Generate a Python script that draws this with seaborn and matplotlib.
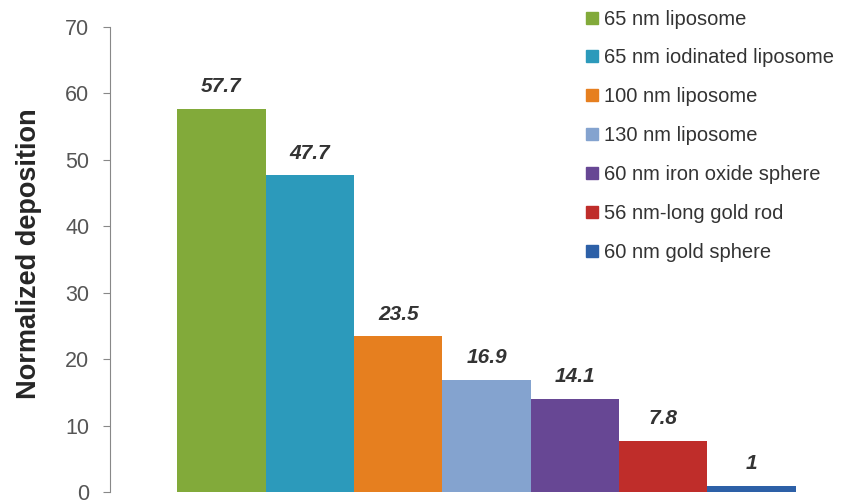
import numpy as np
import pandas as pd
import seaborn as sns
from matplotlib import pyplot as plt
from matplotlib.lines import Line2D

labels = ["65 nm liposome", "65 nm iodinated liposome", "100 nm liposome",
          "130 nm liposome", "60 nm iron oxide sphere", "56 nm-long gold rod",
          "60 nm gold sphere"]
values = [57.7, 47.7, 23.5, 16.9, 14.1, 7.8, 1]
value_text = ["57.7", "47.7", "23.5", "16.9", "14.1", "7.8", "1"]
colors = ["#82AA3A", "#2C9ABB", "#E67F1F", "#84A3CF", "#674794", "#BF2D2A", "#2D60A7"]
yticks = [0, 10, 20, 30, 40, 50, 60, 70]

sns.set_style("white")
plt.rcParams['font.family'] = ['Liberation Sans', 'DejaVu Sans']

df = pd.DataFrame({"label": labels, "value": values})

fig = plt.figure(figsize=(8.47, 5.04), dpi=100)
ax = fig.add_axes([0.130, 0.023, 0.870, 0.924])
sns.barplot(data=df, x="label", y="value", hue="label", palette=colors,
            order=labels, hue_order=labels, dodge=False, width=1.0,
            legend=False, saturation=1, linewidth=0, ax=ax)

ax.set_ylim(0, 70)
ax.set_xlim(-1.26, 7.08)
ax.set_yticks(yticks)
ax.set_yticklabels([str(t) for t in yticks], fontsize=15.5, color="#555555")
ax.set_xticks([])
ax.set_xlabel("")
ax.set_ylabel("Normalized deposition", fontsize=19.5, fontweight="bold")
ax.yaxis.set_label_coords(-0.092, 0.513)
for s in ["top", "right", "bottom"]:
    ax.spines[s].set_visible(False)
ax.spines["left"].set_color("#888888")
ax.tick_params(axis="y", direction="out", length=5, color="#888888", left=True, pad=10)

for i, (v, t) in enumerate(zip(values, value_text)):
    ax.annotate(t, (i, v), xytext=(0, 9), textcoords="offset points",
                ha="center", va="bottom", fontsize=15, fontweight="bold",
                fontstyle="italic", color="#333333")

handles = [Line2D([0], [0], marker="s", linestyle="none", markersize=9,
                  markerfacecolor=c, markeredgecolor=c) for c in colors]
fig.legend(handles, labels, loc="upper left", bbox_to_anchor=(0.682, 0.997),
           frameon=False, fontsize=14.5, labelspacing=0.985, handlelength=0.6,
           handletextpad=0.3, borderaxespad=0, labelcolor="#333333")

fig.savefig("out.png", dpi=100)
